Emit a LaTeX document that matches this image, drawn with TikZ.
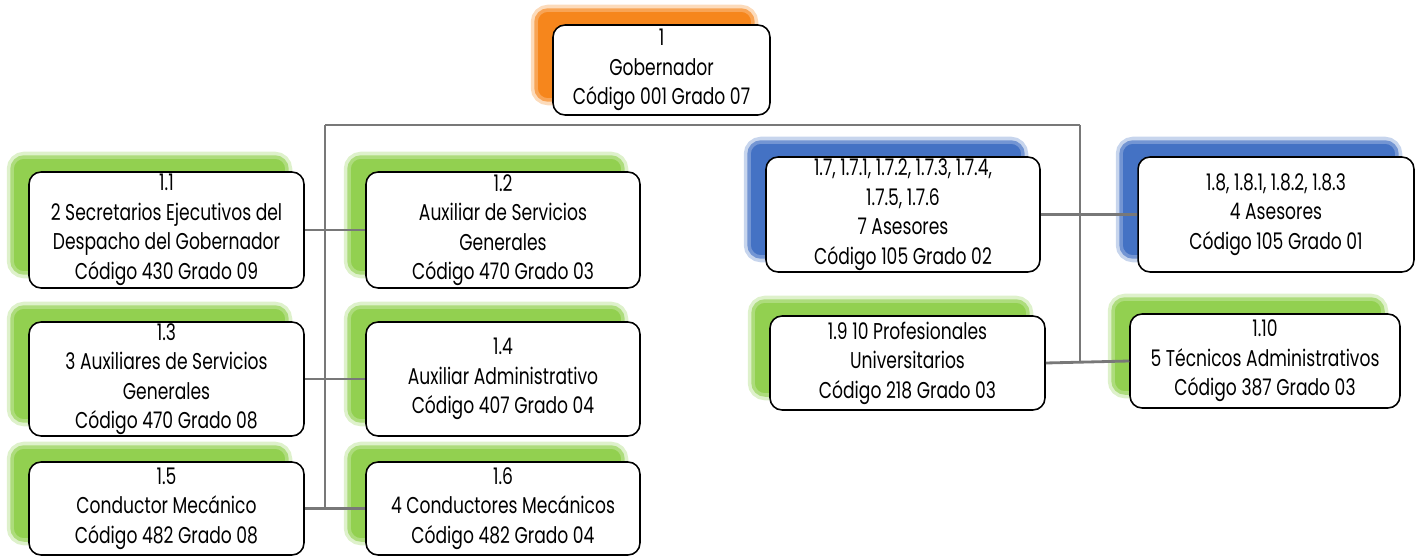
\documentclass[tikz,border=0pt]{standalone}
\usepackage{fontspec}
\setmainfont{Poppins}[FakeStretch=0.75]
\usepackage{tikz}
\usepackage{xcolor}
\definecolor{cgreen}{RGB}{146,208,80}
\definecolor{cblue}{RGB}{68,114,196}
\definecolor{corange}{RGB}{246,134,28}
\definecolor{cline}{RGB}{120,120,120}

\begin{document}
\begin{tikzpicture}[x=0.02cm,y=-0.02cm]
\tikzstyle{cargo} = [rectangle, draw=black, line width=0.9pt, fill=white,
rounded corners=0.24cm, align=center, inner sep=0pt,
font=\fontsize{13}{16.8}\selectfont]
\tikzstyle{verde} = [preaction={fill=cgreen!30, draw=cgreen!30, line width=6pt,
transform canvas={shift={(-0.34cm,0.3cm)}}},
preaction={fill=cgreen, draw=cgreen!75, line width=2pt,
transform canvas={shift={(-0.34cm,0.3cm)}}}]
\tikzstyle{azul} = [preaction={fill=cblue!30, draw=cblue!30, line width=6pt,
transform canvas={shift={(-0.34cm,0.3cm)}}},
preaction={fill=cblue, draw=cblue!75, line width=2pt,
transform canvas={shift={(-0.34cm,0.3cm)}}}]
\tikzstyle{naranja} = [preaction={fill=corange!30, draw=corange!30, line width=6pt,
transform canvas={shift={(-0.34cm,0.3cm)}}},
preaction={fill=corange, draw=corange!75, line width=2pt,
transform canvas={shift={(-0.34cm,0.3cm)}}}]
\tikzstyle{line} = [draw=cline, line width=1.6pt]
\useasboundingbox (0,0) rectangle (1420,557);

% cabeza
\node [cargo, naranja, minimum width=4.34cm, minimum height=1.8cm] (gob) at (661.5,70)
{1\\ Gobernador\\ Código 001 Grado 07};

% columna izquierda
\node [cargo, verde, minimum width=5.5cm, minimum height=2.32cm] (n11) at (166.5,230)
{1.1\\ 2 Secretarios Ejecutivos del\\ Despacho del Gobernador\\ Código 430 Grado 09};
\node [cargo, verde, minimum width=5.48cm, minimum height=2.32cm] (n12) at (503,230)
{1.2\\ Auxiliar de Servicios\\ Generales\\ Código 470 Grado 03};
\node [cargo, verde, minimum width=5.5cm, minimum height=2.28cm] (n13) at (166.5,379)
{1.3\\ 3 Auxiliares de Servicios\\ Generales\\ Código 470 Grado 08};
\node [cargo, verde, minimum width=5.48cm, minimum height=2.28cm] (n14) at (503,379)
{1.4\\ Auxiliar Administrativo\\ Código 407 Grado 04};
\node [cargo, verde, minimum width=5.5cm, minimum height=1.86cm] (n15) at (166.5,508.5)
{1.5\\ Conductor Mecánico\\ Código 482 Grado 08};
\node [cargo, verde, minimum width=5.48cm, minimum height=1.86cm] (n16) at (503,508.5)
{1.6\\ 4 Conductores Mecánicos\\ Código 482 Grado 04};

% columna derecha
\node [cargo, azul, minimum width=5.48cm, minimum height=2.3cm] (n17) at (903,214.5)
{1.7, 1.7.1, 1.7.2, 1.7.3, 1.7.4,\\ 1.7.5, 1.7.6\\ 7 Asesores\\ Código 105 Grado 02};
\node [cargo, azul, minimum width=5.52cm, minimum height=2.3cm] (n18) at (1276,214.5)
{1.8, 1.8.1, 1.8.2, 1.8.3\\ 4 Asesores\\ Código 105 Grado 01};
\node [cargo, verde, minimum width=5.5cm, minimum height=1.88cm] (n19) at (907.5,363)
{1.9 10 Profesionales\\ Universitarios\\ Código 218 Grado 03};
\node [cargo, verde, minimum width=5.4cm, minimum height=1.88cm] (n110) at (1265,361)
{1.10\\ 5 Técnicos Administrativos\\ Código 387 Grado 03};

% conectores
\coordinate (troncoL) at (325,125);
\coordinate (troncoR) at (1080,125);
\path [line] (troncoL) -- (troncoR);
\path [line] (troncoL) -- (troncoL |- n15.east);
\path [line] (troncoR) -- (troncoR |- n19.east);
\path [line] (n11) -- (n12);
\path [line] (n13) -- (n14);
\path [line] (n15) -- (n16);
\path [line] (n17) -- (n18);
\path [line] (n19.east) -- (n110.west);
\end{tikzpicture}
\end{document}
